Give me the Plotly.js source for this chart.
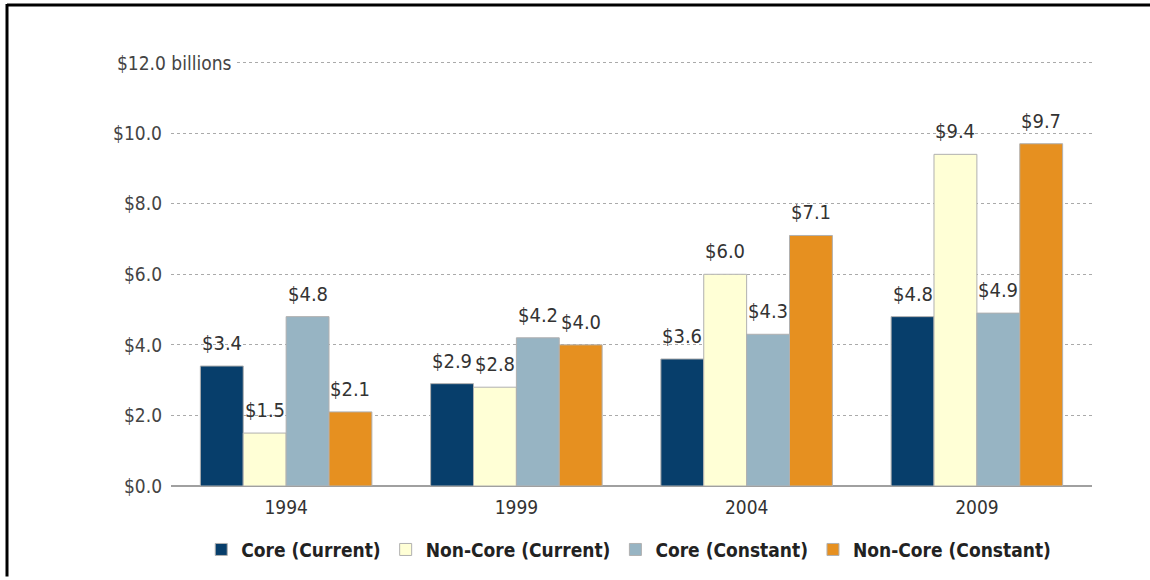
<!DOCTYPE html>
<html>
<head>
<meta charset="utf-8">
<script src="https://cdn.plot.ly/plotly-3.0.1.min.js"></script>
<style>
html,body{margin:0;padding:0;background:#fff;}
#chart{width:1150px;height:580px;}
</style>
</head>
<body>
<div id="chart"></div>
<script>
// ---- data ----
var years = ["1994", "1999", "2004", "2009"];
var seriesNames = ["Core (Current)", "Non-Core (Current)", "Core (Constant)", "Non-Core (Constant)"];
var coreCurrent = [3.4, 2.9, 3.6, 4.8];
var nonCoreCurrent = [1.5, 2.8, 6.0, 9.4];
var coreConstant = [4.8, 4.2, 4.3, 4.9];
var nonCoreConstant = [2.1, 4.0, 7.1, 9.7];
var yTickVals = [0, 2, 4, 6, 8, 10, 12];
var yTickText = ["$0.0", "$2.0", "$4.0", "$6.0", "$8.0", "$10.0", ""];
var topTickLabel = "$12.0 billions";

var colors = ["#073e6b", "#ffffd6", "#97b4c3", "#e69020"];
var seriesValues = [coreCurrent, nonCoreCurrent, coreConstant, nonCoreConstant];
var FONT = "Liberation Sans Narrow, DejaVu Sans Condensed, Arial Narrow, sans-serif";

// plot area in pixels: x 171..1092, y(0) at 489, 35.5 px per unit
var YMAX = 12.3;
var plotTop = 489 - YMAX * 35.5;
var plotH = 489 - plotTop;
function px(p) { return (p - 171) / 921; }
function py(p) { return (489 - p) / plotH; }

var traces = seriesValues.map(function (vals, i) {
  return {
    type: "bar",
    name: seriesNames[i],
    x: years,
    y: vals,
    marker: { color: colors[i], line: { color: "#b0b0b0", width: 1 } },
    hoverinfo: "none"
  };
});

// value labels placed above each bar (offset by bar slot within group)
var BARGAP = 0.255;
var barW = 921 / years.length * (1 - BARGAP) / seriesValues.length;
var annotations = [];
seriesValues.forEach(function (vals, i) {
  vals.forEach(function (v, j) {
    annotations.push({
      xref: "x", yref: "y",
      x: j, y: v,
      xshift: (i - 1.5) * barW,
      yshift: 9,
      xanchor: "center", yanchor: "bottom",
      text: "$" + v.toFixed(1),
      showarrow: false,
      font: { family: FONT, size: 20, color: "#333" }
    });
  });
});
annotations.push({
  xref: "paper", yref: "y",
  x: px(113), y: 12,
  xanchor: "left", yanchor: "middle",
  text: topTickLabel,
  showarrow: false,
  bgcolor: "#fff",
  borderpad: 3,
  font: { family: FONT, size: 19, color: "#444" }
});

var layout = {
  width: 1150,
  height: 580,
  margin: { l: 171, r: 58, t: plotTop, b: 91 },
  paper_bgcolor: "#fff",
  plot_bgcolor: "#fff",
  barmode: "group",
  bargap: BARGAP,
  bargroupgap: 0,
  showlegend: true,
  legend: {
    orientation: "h",
    x: 0.497, xanchor: "center",
    y: py(553), yanchor: "middle",
    font: { family: FONT, size: 19, color: "#222", weight: "bold" },
    itemwidth: 30,
    traceorder: "normal"
  },
  xaxis: {
    type: "category",
    range: [-0.5, years.length - 0.5],
    autorange: false,
    showline: false,
    ticks: "",
    showgrid: false,
    zeroline: false,
    ticklabelstandoff: 8,
    tickfont: { family: FONT, size: 19, color: "#333" }
  },
  yaxis: {
    range: [0, YMAX],
    autorange: false,
    tickvals: yTickVals,
    ticktext: yTickText,
    showgrid: true,
    gridcolor: "#aaaaaa",
    griddash: "3px,3px",
    gridwidth: 1,
    zeroline: true,
    zerolinecolor: "#a0a0a0",
    zerolinewidth: 2,
    showline: false,
    ticks: "",
    ticklabelstandoff: 8,
    tickfont: { family: FONT, size: 19, color: "#444" }
  },
  annotations: annotations,
  shapes: [
    { type: "line", xref: "paper", yref: "paper", x0: px(7), x1: px(1150), y0: py(5), y1: py(5), line: { color: "#000", width: 3 } },
    { type: "line", xref: "paper", yref: "paper", x0: px(7), x1: px(7), y0: py(4), y1: py(580), line: { color: "#000", width: 3 } }
  ]
};

Plotly.newPlot("chart", traces, layout, { displayModeBar: false, staticPlot: true });
</script>
</body>
</html>
